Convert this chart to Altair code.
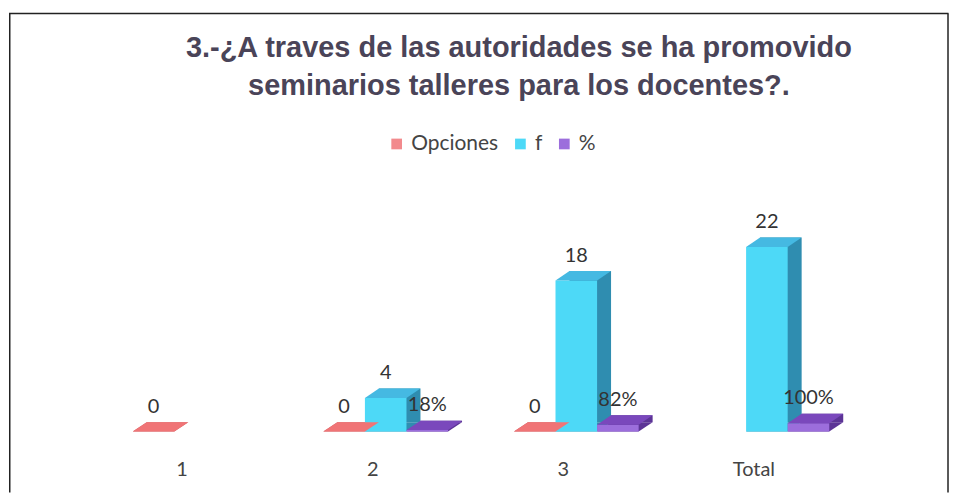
import altair as alt
import pandas as pd

# ---------------- data ----------------
CATEGORIES = ["1", "2", "3", "Total"]
SERIES = ["Opciones", "f", "%"]
OPCIONES = [0, 0, 0, None]
F_VALUES = [None, 4, 18, 22]
PCT_VALUES = [None, 0.18, 0.82, 1.00]
TITLE_1 = "3.-¿A traves de las autoridades se ha promovido"
TITLE_2 = "seminarios talleres para los docentes?."

# ---------------- style ----------------
FRONT = ["#F28A8D", "#4DD9F7", "#9C6EDC"]
TOP = ["#F07476", "#45B9E2", "#7A48BC"]
SIDE = ["#C85A5E", "#2F8DB0", "#5C3496"]
W, H = 942, 485
STEP = 191.0
BANDW = 125.0
P_IN = 1 - BANDW / STEP
P_OUT = (W / STEP - 4 + P_IN) / 2
SUB = BANDW / 3
DX, DY = 14, 9.5
PX_PER_UNIT = 185 / 22
BASE = 424
Y_DOMAIN = [-(H - BASE) / PX_PER_UNIT, BASE / PX_PER_UNIT]

S = 35.0
pts = [(-SUB / 2, 0), (SUB / 2, 0), (SUB / 2 + DX, -DY), (-SUB / 2 + DX, -DY)]
TOP_PATH = "M" + " L".join(f"{x / S:.4f},{y / S:.4f}" for x, y in pts) + " Z"
TOP_SIZE = (2 * S) ** 2

rows = []
for name, vals in zip(SERIES, [OPCIONES, F_VALUES, PCT_VALUES]):
    for c, v in zip(CATEGORIES, vals):
        if v is None:
            continue
        lab = f"{round(v * 100)}%" if name == "%" else f"{v:g}"
        rows.append({"cat": c, "serie": name, "value": v, "zero": 0, "label": lab})
df = pd.DataFrame(rows)

FONT = "Lato"
x_enc = alt.X("cat:N", sort=CATEGORIES,
              scale=alt.Scale(type="band", paddingInner=P_IN, paddingOuter=P_OUT),
              axis=alt.Axis(title=None, domain=False, ticks=False, labelAngle=0,
                            labelFontSize=20, labelFont=FONT, labelColor="#444444",
                            offset=-23, labelPadding=0, labelBaseline="middle",
                            labelOffset=-11, grid=False))


def xo(shift=0):
    return alt.XOffset("serie:N", sort=SERIES,
                       scale=alt.Scale(type="band", paddingInner=0, paddingOuter=0,
                                       range=[shift + 2, BANDW + shift + 2]))


y_scale = alt.Scale(domain=Y_DOMAIN, nice=False, zero=False)
y_enc = alt.Y("value:Q", scale=y_scale, axis=None)
y0_enc = alt.Y("zero:Q", scale=y_scale, axis=None)


def col(rng, legend=None):
    return alt.Color("serie:N", sort=SERIES,
                     scale=alt.Scale(domain=SERIES, range=rng), legend=legend)


base = alt.Chart(df)

side = base.mark_bar(yOffset=-DY, y2Offset=-DY, opacity=1).encode(
    x=x_enc, xOffset=xo(DX), y=y_enc, y2="zero:Q", color=col(SIDE))

floor = base.mark_point(shape=TOP_PATH, size=TOP_SIZE, filled=True, opacity=1,
                        strokeWidth=0).encode(
    x=x_enc, xOffset=xo(), y=y0_enc, color=col(SIDE))

legend = alt.Legend(title=None, orient="none", direction="horizontal",
                    legendX=378, legendY=125, symbolType="square", symbolSize=115,
                    labelFontSize=21, labelFont=FONT, labelColor="#444444",
                    columnPadding=11, labelOffset=4, padding=0, symbolStrokeWidth=0)
front = base.mark_bar(opacity=1).encode(
    x=x_enc, xOffset=xo(), y=y_enc, y2="zero:Q", color=col(FRONT, legend))

top = base.mark_point(shape=TOP_PATH, size=TOP_SIZE, filled=True, opacity=1,
                      strokeWidth=0).encode(
    x=x_enc, xOffset=xo(), y=y_enc, color=col(TOP))

labels = base.mark_text(dy=-25, baseline="middle", fontSize=20, font=FONT,
                        color="#333333").encode(
    x=x_enc, xOffset=xo(), y=y_enc, text="label:N")

bars = alt.layer(side, floor, front, top, labels).resolve_scale(
    color="independent", xOffset="independent")

one = pd.DataFrame({"k": [0]})
tstyle = dict(font="Liberation Sans", fontSize=29, fontWeight="bold",
              color="#4A4458", baseline="alphabetic", align="center")
title1 = alt.Chart(one).mark_text(text=TITLE_1, **tstyle).encode(
    x=alt.value(511), y=alt.value(49))
title2 = alt.Chart(one).mark_text(text=TITLE_2, **tstyle).encode(
    x=alt.value(511), y=alt.value(87))

rule_style = dict(color="#222222", strokeWidth=1.5)
border_left = alt.Chart(one).mark_rule(**rule_style).encode(
    x=alt.value(0.75), y=alt.value(5), y2=alt.value(H))
border_top = alt.Chart(one).mark_rule(**rule_style).encode(
    x=alt.value(0), x2=alt.value(941.5), y=alt.value(5))
border_right = alt.Chart(one).mark_rule(**rule_style).encode(
    x=alt.value(941), y=alt.value(5), y2=alt.value(H))

chart = alt.layer(bars, title1, title2, border_left, border_top, border_right).properties(
    width=W, height=H, padding=0, background="white"
).configure_view(stroke=None)

chart.save("out.html", embed_options={"renderer": "svg", "actions": False})
